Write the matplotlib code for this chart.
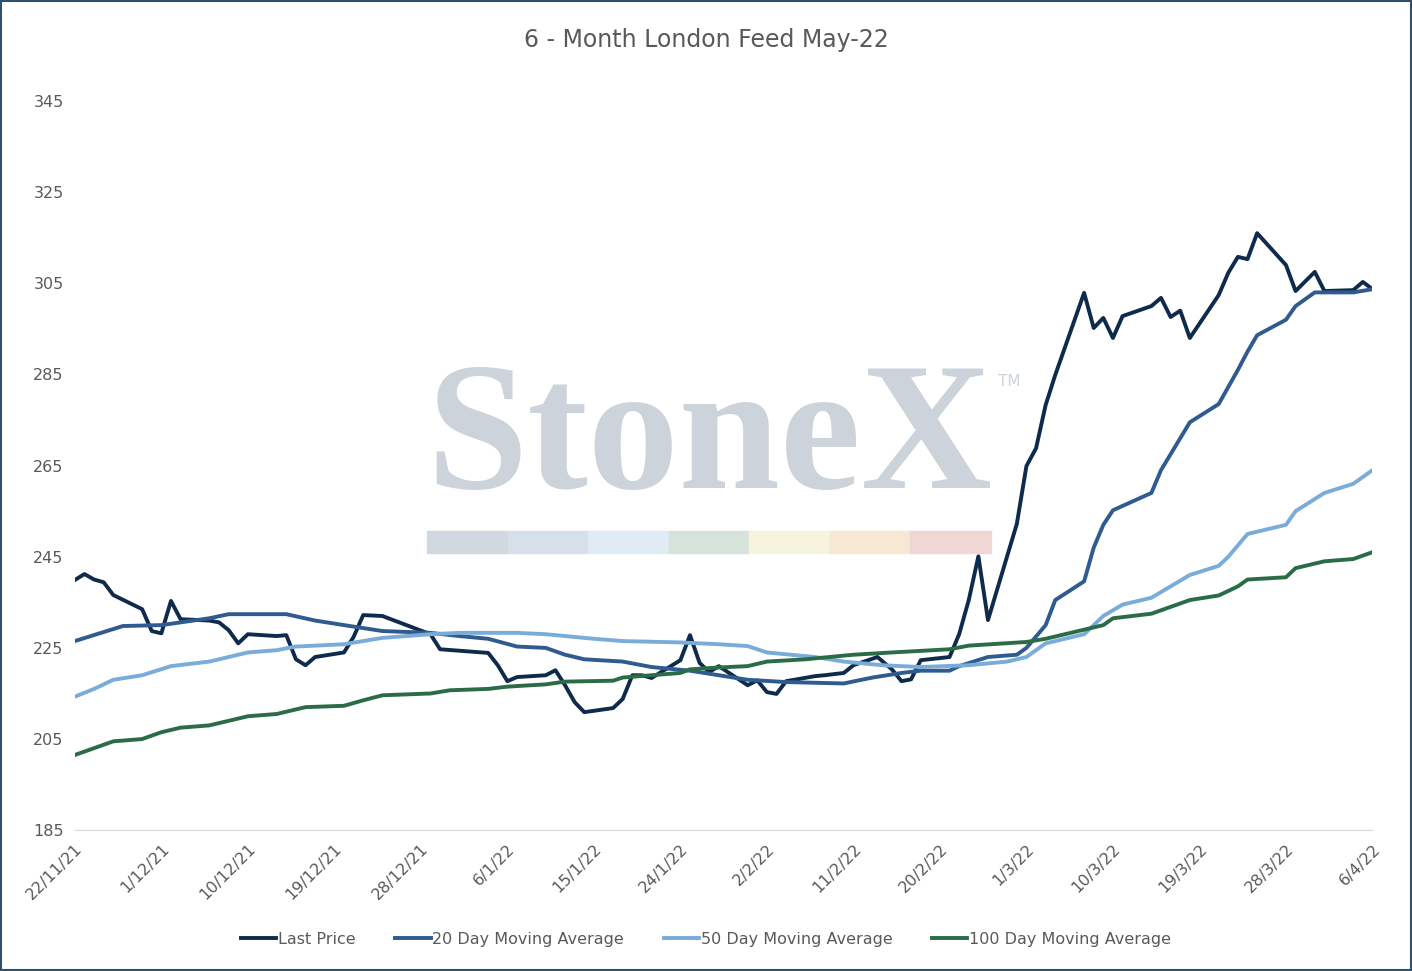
import matplotlib
matplotlib.use('Agg')
import matplotlib.pyplot as plt
from matplotlib.patches import Rectangle
import pandas as pd

start = pd.Timestamp('2021-11-22')

# (day offset from 22/11/21, value)
last_days = [0,1,2,3,4,7,8,9,10,11,14,15,16,17,18,21,22,23,24,25,28,29,30,32,37,38,43,44,45,46,49,50,51,52,53,56,57,58,59,60,63,64,65,66,67,70,71,72,73,74,77,78,80,81,83.5,85,86,87,88,91,92,93,94,95,98,99,100,101,102,105,106,107,108,109,112,113,114,115,116,119,120,121,122,123,126,127,129,130,133,134,135]
last_vals = [239.9,241.2,240,239.4,236.6,233.5,228.7,228.2,235.3,231.3,231,230.6,228.9,226,228,227.6,227.8,222.5,221.2,223,224,227.4,232.2,232,228,224.7,223.9,221.2,217.7,218.6,219,220.1,216.8,213.1,210.9,211.8,213.8,219,219,218.4,222.3,227.8,221.7,219.7,221,216.8,217.9,215.3,214.9,217.7,218.8,219,219.5,221.2,223,220.3,217.7,218.1,222.3,223,228,235.5,245.1,231.1,252.2,264.9,268.8,278.3,284.9,302.9,295.2,297.4,293,297.8,300,301.8,297.6,299,293,302.4,307.3,310.8,310.3,316,309,303.3,307.5,303.3,303.5,305.3,303.7]

ma20_days = [0,5,9,14,16,22,25,28,32,37,40,43,46,49,51,53,57,60,64,67,70,74,80,83,86,88,91,92,95,98,99,101,102,105,106,107,108,112,113,115,116,119,121,122,123,126,127,129,133,135]
ma20_vals = [226.5,229.8,230,231.5,232.4,232.4,231,230,228.7,228.3,227.6,227,225.3,225,223.5,222.5,222,220.8,220,219,218,217.5,217.2,218.5,219.5,220,220,221,223,223.5,225,230,235.5,239.6,247,252,255.2,259,264,271,274.5,278.5,286,290,293.6,297,300,303,303,303.7]

ma50_days = [0,2,4,7,10,14,16,18,21,23,28,32,37,40,46,49,54,57,63,67,70,72,77,80,84,88,93,97,99,101,105,107,109,112,116,119,120,122,126,127,130,133,135]
ma50_vals = [214.3,216,218,219,221,222,223,224,224.5,225.3,225.8,227.2,228,228.3,228.3,228,227,226.5,226.2,225.8,225.4,224,223,222,221.2,220.8,221.2,222,223,226,228,232,234.5,236,241,243,245,250,252,255,259,261,264]

ma100_days = [0,2,4,7,9,11,14,16,18,21,22,24,28,30,32,37,39,43,45,49,51,56,57,60,63,64,67,70,72,76,81,85,91,93,99,101,105,107,108,112,114,116,119,121,122,126,127,130,133,135]
ma100_vals = [201.5,203,204.5,205,206.5,207.5,208,209,210,210.5,211,212,212.3,213.5,214.6,215,215.7,216,216.5,217,217.6,217.8,218.5,219,219.5,220.3,220.7,221,222,222.5,223.5,224,224.7,225.5,226.3,227,229,230,231.5,232.5,234,235.5,236.5,238.5,240,240.5,242.5,244,244.5,246]

series = [
    ('Last Price', last_days, last_vals, '#0f2b4c'),
    ('20 Day Moving Average', ma20_days, ma20_vals, '#2f5b8f'),
    ('50 Day Moving Average', ma50_days, ma50_vals, '#79acd9'),
    ('100 Day Moving Average', ma100_days, ma100_vals, '#2b6c47'),
]

fig = plt.figure(figsize=(14.12, 9.71), dpi=100)
ax = fig.add_axes([0.053, 0.145, 0.919, 0.751])

# watermark
fig.text(0.302, 0.497, 'StoneX', fontsize=131, family='Liberation Serif', weight='bold',
         color='#ccd3db', zorder=0)
fig.text(0.707, 0.602, 'TM', fontsize=11, color='#ccd3db')
band = ['#d2d8df', '#d6dfea', '#e0ebf5', '#d5e3db', '#f6f4dd', '#f6e8d2', '#f1d6d6']
for i, c in enumerate(band):
    fig.patches.append(Rectangle((0.3025 + i * 0.057, 0.43), 0.057, 0.023, transform=fig.transFigure,
                                 color=c, zorder=0))

for name, d, v, c in series:
    dates = [start + pd.Timedelta(days=x) for x in d]
    ax.plot(dates, v, color=c, lw=2.8, label=name, solid_joinstyle='round')

ax.set_ylim(185, 345)
ax.set_yticks(range(185, 346, 20))
ticks = [start + pd.Timedelta(days=9 * i) for i in range(16)]
ax.set_xticks(ticks)
ax.set_xticklabels([f'{t.day}/{t.month}/{t.year % 100}' for t in ticks], rotation=45, ha='right',
                   rotation_mode='anchor')
ax.set_xlim(ticks[0], ticks[-1])
for s in ['top', 'right', 'left']:
    ax.spines[s].set_visible(False)
ax.spines['bottom'].set_color('#d9d9d9')
ax.tick_params(length=0, labelsize=11.5, colors='#595959', pad=8)
ax.patch.set_alpha(0)

fig.text(0.5, 0.952, '6 - Month London Feed May-22', ha='center', fontsize=17, color='#595959')
fig.legend(loc='lower center', bbox_to_anchor=(0.5, 0.01), ncol=4, frameon=False, fontsize=11.5,
           handlelength=2.2, labelcolor='#595959', columnspacing=2.5, handletextpad=0.1)
fig.patches.append(Rectangle((0.001, 0.001), 0.998, 0.998, transform=fig.transFigure,
                             fill=False, ec='#2f4f6f', lw=1.5))
fig.savefig('out.png')
